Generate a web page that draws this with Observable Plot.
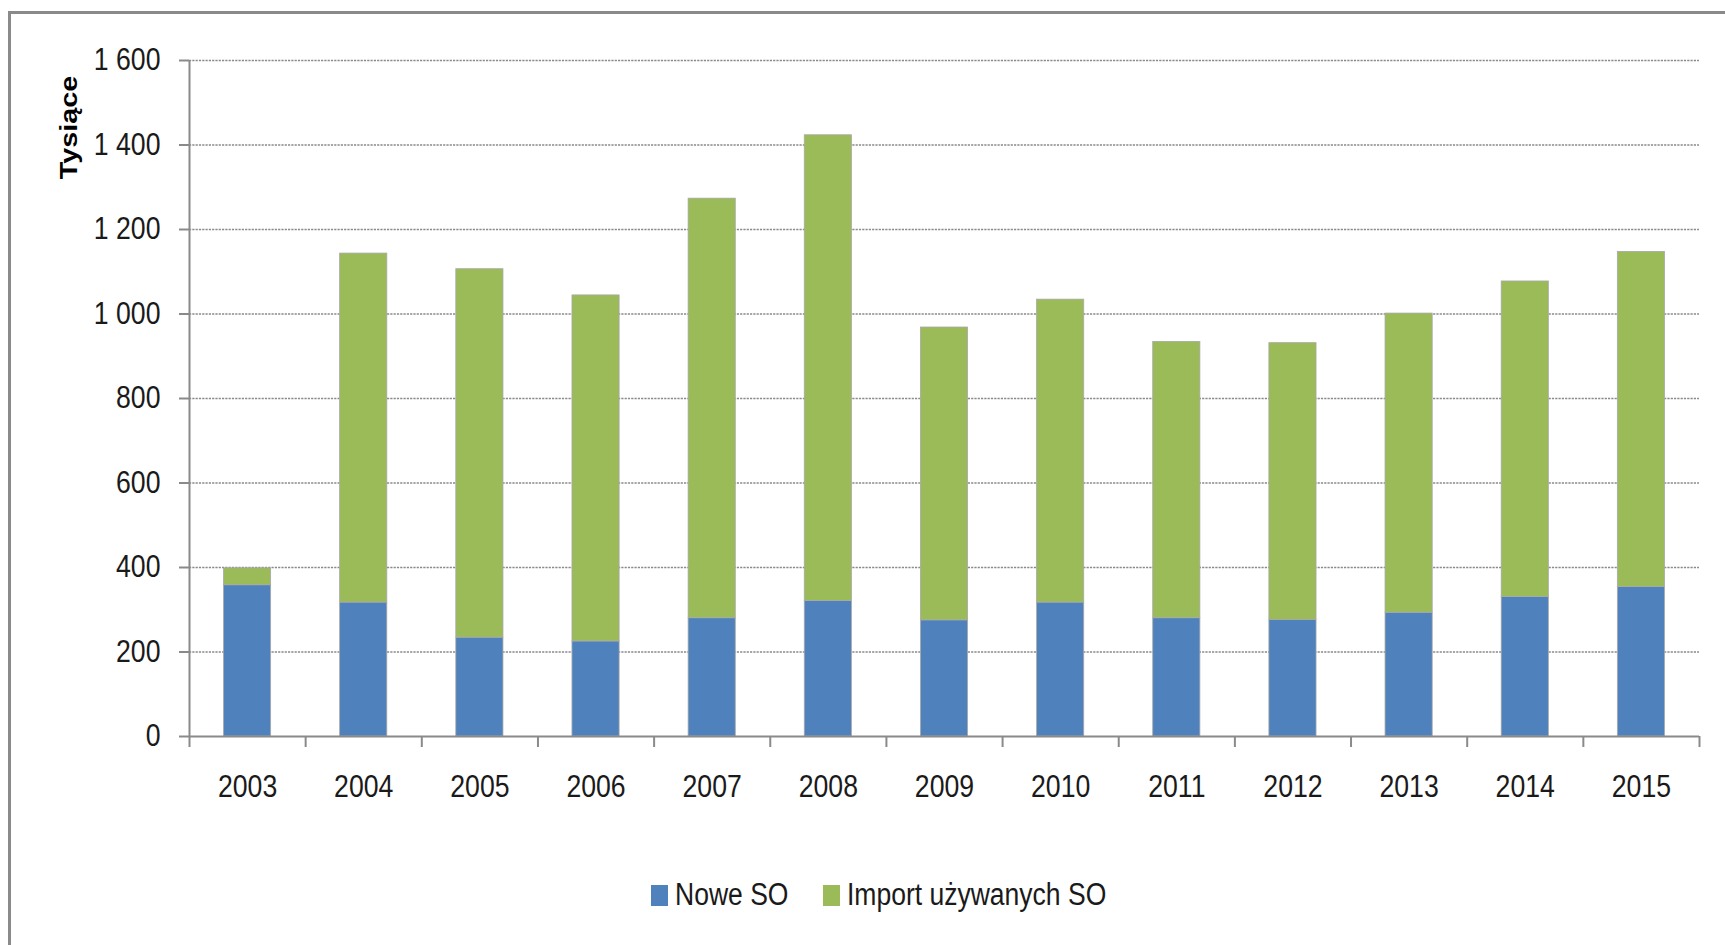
<!DOCTYPE html>
<html>
<head>
<meta charset="utf-8">
<script src="https://cdn.jsdelivr.net/npm/d3@7"></script>
<script src="https://cdn.jsdelivr.net/npm/@observablehq/plot@0.6"></script>
<style>
  html, body { margin: 0; padding: 0; background: #fff; }
  body { width: 1725px; height: 945px; overflow: hidden; position: relative;
         font-family: 'Liberation Sans', Arial, sans-serif; }
  #frame { position: absolute; left: 8px; top: 11px; width: 1800px; height: 1000px;
           border-left: 3px solid #8a8a8a; border-top: 3px solid #8a8a8a; }
  #chart { position: relative; }
  #chart svg { display: block; background: transparent; }
  #legend { position: relative; display: flex; align-items: center; padding-left: 651px;
            margin-top: 15px; height: 40px; font-size: 31px; color: #1a1a1a; }
  .item { display: flex; align-items: center; margin-right: 35px; }
  .sw { width: 17px; height: 21px; margin-right: 7px; flex: none; }
  .lab { display: inline-block; overflow: visible; white-space: nowrap; }
  .lab span { display: inline-block; transform: scaleX(0.855); transform-origin: left center; }
</style>
</head>
<body>
<div id="frame"></div>
<div id="chart"></div>
<div id="legend"></div>
<script>
const years = [2003, 2004, 2005, 2006, 2007, 2008, 2009, 2010, 2011, 2012, 2013, 2014, 2015];
const noweSO = [358, 317, 234, 225, 280, 321, 275, 317, 280, 276, 293, 330, 354];
const importSO = [40, 826, 872, 819, 993, 1102, 693, 717, 654, 655, 708, 747, 793];
const seriesNames = ["Nowe SO", "Import używanych SO"];
const seriesColors = ["#4F81BD", "#9BBB59"];
const yTicks = [0, 200, 400, 600, 800, 1000, 1200, 1400, 1600];
const yLabel = "Tysiące";

const data = years.flatMap((y, i) => [
  {year: y, series: seriesNames[0], value: noweSO[i]},
  {year: y, series: seriesNames[1], value: importSO[i]}
]);
const xDomain = [years[0] - 0.5, years[years.length - 1] + 0.5];
const bounds = years.map(y => y - 0.5).concat([years[years.length - 1] + 0.5]);
const fmt = v => d3.format(",")(v).replace(/,/g, " ");

const chart = Plot.plot({
  width: 1725,
  height: 860,
  marginLeft: 189,
  marginRight: 26,
  marginTop: 60,
  marginBottom: 124,
  style: {fontFamily: "'Liberation Sans', Arial, sans-serif", fontSize: "31px", color: "#1a1a1a", background: "transparent"},
  x: {domain: xDomain},
  y: {domain: [0, 1600]},
  color: {domain: seriesNames, range: seriesColors},
  marks: [
    Plot.gridY(yTicks.filter(d => d > 0), {stroke: "#8a8a8a", strokeOpacity: 1, strokeWidth: 1.6, strokeDasharray: "2.2,1.1"}),
    Plot.rectY(data, {
      x1: d => d.year - 0.5, x2: d => d.year + 0.5, y: "value", fill: "series",
      order: seriesNames, insetLeft: 34.5, insetRight: 34.5,
      stroke: "#a8a8a8", strokeWidth: 0.8
    }),
    Plot.ruleX([xDomain[0]], {y1: 0, y2: 1600, stroke: "#8a8a8a", strokeWidth: 2}),
    Plot.ruleY([0], {stroke: "#8a8a8a", strokeWidth: 2}),
    Plot.axisY({ticks: yTicks, tickFormat: fmt, tickSize: 10, tickPadding: 19, stroke: "#8a8a8a", strokeWidth: 2, label: null}),
    Plot.axisX({ticks: bounds, tickFormat: () => "", tickSize: 11, stroke: "#8a8a8a", strokeWidth: 2, label: null}),
    Plot.axisX({ticks: years, tickFormat: d => String(d), tickSize: 0, tickPadding: 38, label: null}),
    Plot.text([yLabel], {frameAnchor: "top-left", rotate: -90, dx: -120, dy: 67, fontWeight: "bold", fontSize: 24, textAnchor: "middle", lineAnchor: "middle", fill: "#000"})
  ]
});
document.getElementById("chart").appendChild(chart);

// condense tick label glyphs to match the narrow original typeface
chart.querySelectorAll("text").forEach(t => {
  const extra = t.textContent === yLabel ? " scale(1.2,1)" : " scale(0.86,1)";
  const tr = t.getAttribute("transform");
  if (tr) {
    t.setAttribute("transform", tr + extra);
  } else {
    const x = t.getAttribute("x") || 0, y = t.getAttribute("y") || 0;
    t.removeAttribute("x"); t.removeAttribute("y");
    t.setAttribute("transform", `translate(${x},${y})` + extra);
  }
});

const legend = document.getElementById("legend");
seriesNames.forEach((name, i) => {
  const item = document.createElement("div");
  item.className = "item";
  const sw = document.createElement("span");
  sw.className = "sw";
  sw.style.background = seriesColors[i];
  const lab = document.createElement("span");
  lab.className = "lab";
  const inner = document.createElement("span");
  inner.textContent = name;
  lab.appendChild(inner);
  item.appendChild(sw);
  item.appendChild(lab);
  legend.appendChild(item);
  lab.style.width = inner.getBoundingClientRect().width + "px";
});
</script>
</body>
</html>
